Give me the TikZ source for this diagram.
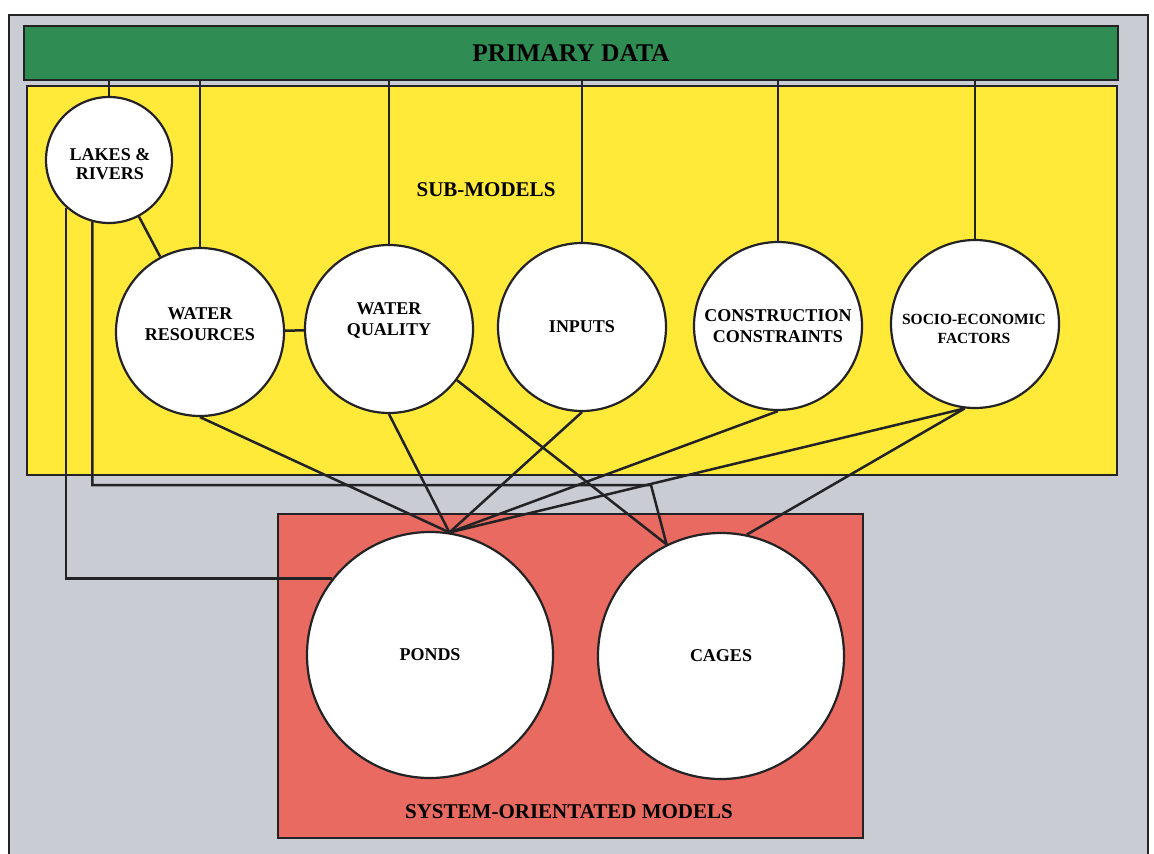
\documentclass[tikz,border=0pt]{standalone}
\usepackage{fontspec}
\setmainfont{Liberation Serif}
\definecolor{framegray}{RGB}{201,204,211}
\definecolor{bargreen}{RGB}{47,141,84}
\definecolor{subyellow}{RGB}{255,234,58}
\definecolor{sysred}{RGB}{232,106,96}
\definecolor{ink}{RGB}{35,35,38}
\tikzset{
  panel/.style={draw=ink, line width=2.2pt},
  model/.style={circle, draw=ink, line width=2.2pt, fill=white, inner sep=0pt,
    align=center, font=\bfseries\fontsize{18}{21}\selectfont},
  link/.style={draw=ink, line width=2.5pt},
  title/.style={font=\bfseries\fontsize{21}{24}\selectfont, text=black}
}
\begin{document}
\begin{tikzpicture}[x=1pt,y=-1pt]
\useasboundingbox (0,0) rectangle (1154,854);
\fill[white] (0,0) rectangle (1154,854);
% outer frame and the three panels
\draw[panel, fill=framegray] (9,15) rectangle (1148,870);
\node[panel, fill=bargreen, minimum width=1094pt, minimum height=54pt, inner sep=0pt,
  font=\bfseries\fontsize{25.5}{28}\selectfont] (pd) at (571,53) {PRIMARY DATA};
\draw[panel, fill=subyellow] (27,86) rectangle (1117,475);
\draw[panel, fill=sysred] (278,514) rectangle (863,838);
\node[title] (sm) at (486,190) {SUB-MODELS};
\node[title] (som) at (569,812) {SYSTEM-ORIENTATED MODELS};
% sub-models
\node[model, minimum size=126pt] (lr) at (109,160) {};
\node[model, minimum size=168pt] (wr) at (200,332) {};
\node[model, minimum size=168pt] (wq) at (389,329) {};
\node[model, minimum size=168pt] (in) at (582,327) {INPUTS};
\node[model, minimum size=168pt] (cc) at (778,326) {CONSTRUCTION\\CONSTRAINTS};
\node[model, minimum size=168pt] (se) at (975,324) {};
% labels set a little off the circle centres
\node[align=center, font=\bfseries\fontsize{18}{19}\selectfont] (lrt) at (110,164) {LAKES \&\\RIVERS};
\node[align=center, font=\bfseries\fontsize{18}{21}\selectfont] (wrt) at (200,324) {WATER\\RESOURCES};
\node[align=center, font=\bfseries\fontsize{18}{21}\selectfont] (wqt) at (389,321) {WATER\\QUALITY};
\node[align=center, font=\bfseries\fontsize{15.5}{19}\selectfont] (set) at (974,329) {SOCIO-ECONOMIC\\FACTORS};
% system-orientated models
\node[model, minimum size=246pt] (po) at (430,655) {PONDS};
\node[model, minimum size=246pt] (ca) at (721,656) {CAGES};
% primary data feeds each sub-model
\foreach \m in {lr,wr,wq,in,cc,se}
  \draw[link] (\m.north) -- (\m.north |- pd.south);
% links among sub-models
\draw[link] (lr) -- (wr);
\draw[link] (wr) -- (wq);
% sub-models to ponds
\coordinate (pt) at (po.81);
\foreach \m in {wr,wq,in,cc}
  \draw[link] (\m.south) -- (pt);
\draw[link] (se.-97) -- (pt);
\draw[link] (lr.-132) |- (po.142);
% sub-models to cages
\coordinate (ct) at (ca.116);
\coordinate (bend) at (651,485);
\draw[link] (lr.-105) |- (bend) -- (ct);
\draw[link] (wq.-37) -- (ct);
\draw[link] (se.-97) -- (ca.78);
\end{tikzpicture}
\end{document}
